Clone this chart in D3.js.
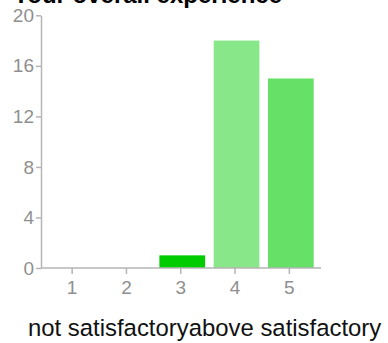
<!DOCTYPE html>
<html>
<head>
<meta charset="utf-8">
<script src="https://cdn.jsdelivr.net/npm/d3@7"></script>
<style>
  html, body { margin: 0; padding: 0; background: #fff; }
  svg { display: block; font-family: "Liberation Sans", Arial, sans-serif; }
</style>
</head>
<body>
<svg id="chart" width="388" height="343"></svg>
<script>
// Rating scale responses
const titleText = "Your overall experience";
const categories = ["1", "2", "3", "4", "5"];
const counts = [0, 0, 1, 18, 15];
const barColors = ["#00cc00", "#00cc00", "#00cc00", "#88e788", "#66e066"];
const yTicks = [0, 4, 8, 12, 16, 20];
const scaleCaption = "not satisfactoryabove satisfactory";

const svg = d3.select("#chart");
const axisLeftX = 41, axisRightX = 321;
const yTop = 15.3, yBottom = 268;

const x = d3.scaleBand()
  .domain(categories)
  .range([46.5, 318])
  .paddingInner(0.158)
  .paddingOuter(0.079);

const y = d3.scaleLinear().domain([0, 20]).range([yBottom, yTop]);

// title (partly above the top edge)
svg.append("text")
  .attr("x", 13).attr("y", 3)
  .attr("font-weight", "bold")
  .attr("font-size", 24)
  .attr("fill", "#000")
  .text(titleText);

// bars
svg.append("g").selectAll("rect")
  .data(categories.map((c, i) => ({ c, v: counts[i], col: barColors[i] })))
  .join("rect")
  .attr("x", d => x(d.c))
  .attr("width", x.bandwidth())
  .attr("y", d => y(d.v))
  .attr("height", d => y(0) - y(d.v))
  .attr("fill", d => d.col);

// y axis
const yAxis = svg.append("g")
  .attr("transform", `translate(${axisLeftX},0)`)
  .call(d3.axisLeft(y).tickValues(yTicks).tickSize(5).tickPadding(2).tickSizeOuter(0));
yAxis.select(".domain").attr("stroke", "#b5b5b5").attr("stroke-width", 1.5);
yAxis.selectAll(".tick line").attr("stroke", "#b5b5b5").attr("stroke-width", 1.5);
yAxis.selectAll(".tick text")
  .attr("font-size", 19).attr("fill", "#8f8f8f")
  .attr("font-family", "Liberation Sans, Arial, sans-serif");

// x axis
const xAxis = svg.append("g")
  .attr("transform", `translate(0,${yBottom})`)
  .call(d3.axisBottom(x).tickSize(6).tickPadding(7).tickSizeOuter(0));
xAxis.select(".domain")
  .attr("d", `M${axisLeftX},0H${axisRightX}`)
  .attr("stroke", "#b5b5b5").attr("stroke-width", 1.5);
xAxis.selectAll(".tick").attr("transform", d => `translate(${x(d) + x.bandwidth() / 2 - 1.5},0)`);
xAxis.selectAll(".tick line").attr("stroke", "#b5b5b5").attr("stroke-width", 1.5);
xAxis.selectAll(".tick text")
  .attr("font-size", 19).attr("fill", "#8f8f8f")
  .attr("font-family", "Liberation Sans, Arial, sans-serif");

// scale endpoint caption
svg.append("text")
  .attr("x", 28).attr("y", 336)
  .attr("font-size", 23.9)
  .attr("fill", "#111")
  .text(scaleCaption);
</script>
</body>
</html>
